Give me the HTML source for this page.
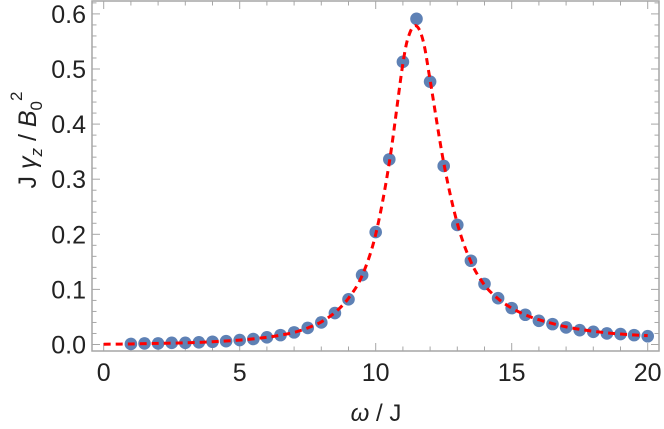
<!DOCTYPE html>
<html><head><meta charset="utf-8"><style>
body{margin:0;background:#fff}
svg{display:block;font-family:"Liberation Sans",sans-serif}
</style></head><body>
<svg id="c" width="664" height="429">
<text transform="translate(36,140) rotate(-90)" text-anchor="middle" font-size="25" fill="#222">J <tspan font-style="italic">γ</tspan><tspan font-style="italic" font-size="17" dy="6">z</tspan><tspan dy="-6"> / </tspan><tspan font-style="italic">B</tspan><tspan font-size="17" dy="6">0</tspan><tspan font-size="17" dy="-20">2</tspan></text>
<text x="376" y="421" text-anchor="middle" font-size="24" fill="#222"><tspan font-style="italic">ω</tspan> / J</text>
</svg>
<script>
const dataX=[1,1.5,2,2.5,3,3.5,4,4.5,5,5.5,6,6.5,7,7.5,8,8.5,9,9.5,10,10.5,11,11.5,12,12.5,13,13.5,14,14.5,15,15.5,16,16.5,17,17.5,18,18.5,19,19.5,20];
const dataY=[0.001,0.002,0.002,0.003,0.003,0.004,0.005,0.006,0.008,0.010,0.013,0.017,0.022,0.030,0.040,0.057,0.082,0.126,0.204,0.336,0.513,0.591,0.477,0.324,0.217,0.152,0.110,0.084,0.066,0.054,0.043,0.037,0.031,0.026,0.023,0.020,0.019,0.017,0.015];
const curveX=[0,1,2,3,4,5,6,6.5,7,7.5,8,8.5,9,9.5,10,10.5,11,11.25,11.5,11.75,12,12.5,13,13.5,14,14.5,15,15.5,16,17,18,19,20];
const curveY=[0.0005,0.001,0.002,0.003,0.005,0.008,0.013,0.017,0.022,0.030,0.041,0.058,0.084,0.125,0.200,0.330,0.510,0.565,0.578,0.550,0.480,0.330,0.220,0.150,0.108,0.083,0.066,0.054,0.045,0.032,0.024,0.019,0.016];
const xTicks=[0,5,10,15,20];
const yTicks=[0,0.1,0.2,0.3,0.4,0.5,0.6];
const yTickLabels=["0.0","0.1","0.2","0.3","0.4","0.5","0.6"];
const L=92,R=659,T=1,B=351;
const sx=v=>103.7+v*27.2;
const sy=v=>344.5-v*551;
const svg=document.getElementById('c');
const NS='http://www.w3.org/2000/svg';
function mk(t,a){const e=document.createElementNS(NS,t);for(const k in a)e.setAttribute(k,a[k]);svg.appendChild(e);return e;}
const fr=mk('rect',{x:L,y:T,width:R-L,height:B-T,fill:'none',stroke:'#a6a6a6','stroke-width':1.5});


for(let v=0;v<=21;v++){const x=sx(v);if(x>R)break;const len=v%5===0?8:4.5;
 const t1=mk('line',{x1:x,x2:x,y1:B,y2:B-len,stroke:'#a6a6a6'});
 const t2=mk('line',{x1:x,x2:x,y1:T,y2:T+len,stroke:'#a6a6a6'});}
for(let i=0;i<=31;i++){const v=i*0.02;const y=sy(v);if(y<T)break;const len=i%5===0?8:4.5;
 const t1=mk('line',{x1:L,x2:L+len,y1:y,y2:y,stroke:'#a6a6a6'});
 const t2=mk('line',{x1:R,x2:R-len,y1:y,y2:y,stroke:'#a6a6a6'});}
xTicks.forEach(v=>{const t=mk('text',{x:sx(v),y:381,'text-anchor':'middle','font-size':25,fill:'#222'});t.textContent=v;
 });
yTicks.forEach((v,i)=>{const t=mk('text',{x:86,y:sy(v)+9,'text-anchor':'end','font-size':25,fill:'#222'});t.textContent=yTickLabels[i];
 });
dataX.forEach((v,i)=>{const c=mk('circle',{cx:sx(v),cy:sy(dataY[i]),r:6.3,fill:'#5e81b5'});
 });
const P=curveX.map((v,i)=>[sx(v),sy(curveY[i])]);
let d='M'+P[0][0]+','+P[0][1];
for(let i=0;i<P.length-1;i++){const p0=P[Math.max(0,i-1)],p1=P[i],p2=P[i+1],p3=P[Math.min(P.length-1,i+2)];
 d+=' C'+(p1[0]+(p2[0]-p0[0])/6)+','+(p1[1]+(p2[1]-p0[1])/6)+' '+(p2[0]-(p3[0]-p1[0])/6)+','+(p2[1]-(p3[1]-p1[1])/6)+' '+p2[0]+','+p2[1];}
const fit=mk('path',{d:d,fill:'none',stroke:'#ff0000','stroke-width':3,'stroke-dasharray':'7,5'});


</script>
</body></html>
